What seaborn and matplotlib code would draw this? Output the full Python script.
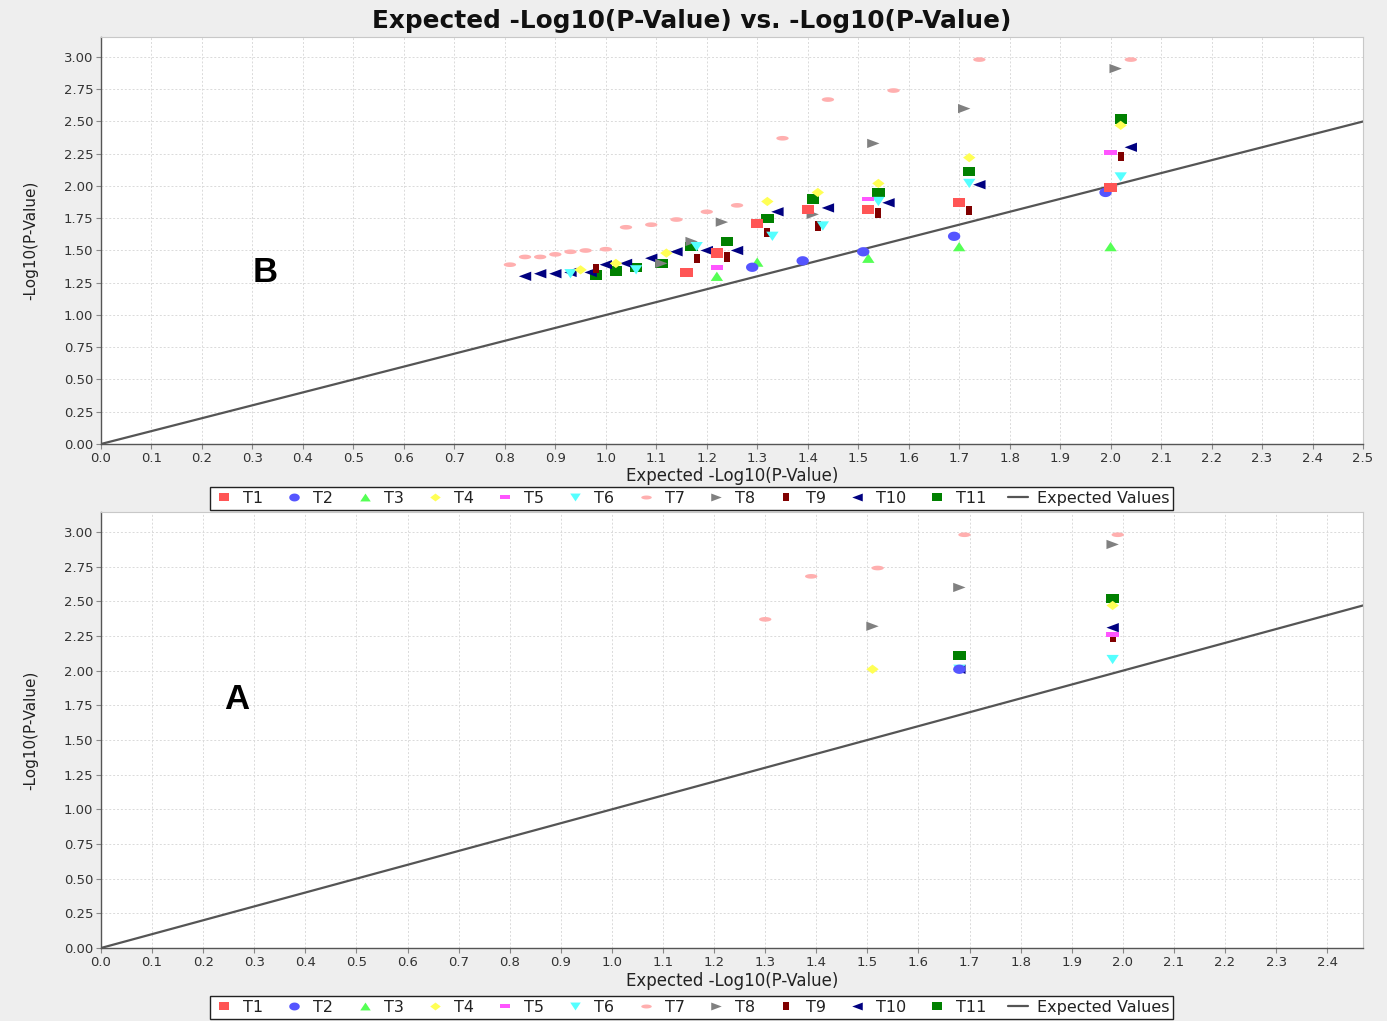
import numpy as np
import pandas as pd
import matplotlib
matplotlib.use("Agg")
import matplotlib.pyplot as plt
from matplotlib.path import Path
from matplotlib.lines import Line2D
from matplotlib.ticker import FormatStrFormatter
import seaborn as sns

# ---------------------------------------------------------------- data
SERIES = ["T1", "T2", "T3", "T4", "T5", "T6", "T7", "T8", "T9", "T10", "T11"]

# Panel B (upper plot): expected vs observed -log10(p)
B_T1_X = [1.16, 1.22, 1.30, 1.40, 1.52, 1.70, 2.00]
B_T1_Y = [1.33, 1.48, 1.71, 1.82, 1.82, 1.87, 1.99]
B_T2_X = [1.29, 1.39, 1.51, 1.69, 1.99]
B_T2_Y = [1.37, 1.42, 1.49, 1.61, 1.95]
B_T3_X = [1.22, 1.30, 1.52, 1.70, 2.00]
B_T3_Y = [1.30, 1.41, 1.44, 1.53, 1.53]
B_T4_X = [0.95, 1.02, 1.12, 1.32, 1.42, 1.54, 1.72, 2.02]
B_T4_Y = [1.35, 1.40, 1.48, 1.88, 1.95, 2.02, 2.22, 2.47]
B_T5_X = [1.22, 1.52, 2.00]
B_T5_Y = [1.37, 1.90, 2.26]
B_T6_X = [0.93, 1.06, 1.18, 1.33, 1.43, 1.54, 1.72, 2.02]
B_T6_Y = [1.32, 1.35, 1.53, 1.61, 1.69, 1.88, 2.02, 2.07]
B_T7_X = [0.81, 0.84, 0.87, 0.90, 0.93, 0.96, 1.00, 1.04, 1.09, 1.14, 1.20,
          1.26, 1.35, 1.44, 1.57, 1.74, 2.04]
B_T7_Y = [1.39, 1.45, 1.45, 1.47, 1.49, 1.50, 1.51, 1.68, 1.70, 1.74, 1.80,
          1.85, 2.37, 2.67, 2.74, 2.98, 2.98]
B_T8_X = [1.11, 1.17, 1.23, 1.41, 1.53, 1.71, 2.01]
B_T8_Y = [1.40, 1.57, 1.72, 1.78, 2.33, 2.60, 2.91]
B_T9_X = [0.98, 1.18, 1.24, 1.32, 1.42, 1.54, 1.72, 2.02]
B_T9_Y = [1.36, 1.44, 1.45, 1.64, 1.69, 1.79, 1.81, 2.23]
B_T10_X = [0.84, 0.87, 0.90, 0.93, 0.97, 1.00, 1.04, 1.09, 1.14, 1.20, 1.26,
           1.34, 1.44, 1.56, 1.74, 2.04]
B_T10_Y = [1.30, 1.32, 1.32, 1.33, 1.33, 1.39, 1.40, 1.44, 1.49, 1.50, 1.50,
           1.80, 1.83, 1.87, 2.01, 2.30]
B_T11_X = [0.98, 1.02, 1.06, 1.11, 1.17, 1.24, 1.32, 1.41, 1.54, 1.72, 2.02]
B_T11_Y = [1.31, 1.34, 1.37, 1.40, 1.53, 1.57, 1.75, 1.90, 1.95, 2.11, 2.52]

# Panel A (lower plot)
A_T1_X, A_T1_Y = [], []
A_T2_X, A_T2_Y = [1.68], [2.01]
A_T3_X, A_T3_Y = [], []
A_T4_X, A_T4_Y = [1.51, 1.98], [2.01, 2.47]
A_T5_X, A_T5_Y = [1.98], [2.26]
A_T6_X, A_T6_Y = [1.68, 1.98], [2.01, 2.08]
A_T7_X = [1.30, 1.39, 1.52, 1.69, 1.99]
A_T7_Y = [2.37, 2.68, 2.74, 2.98, 2.98]
A_T8_X, A_T8_Y = [1.51, 1.68, 1.98], [2.32, 2.60, 2.91]
A_T9_X, A_T9_Y = [1.98], [2.24]
A_T10_X, A_T10_Y = [1.68, 1.98], [2.01, 2.31]
A_T11_X, A_T11_Y = [1.68, 1.98], [2.11, 2.52]

# Expected-values reference line (y = x) across each x range
EXPECTED_B = [0.0, 2.5]
EXPECTED_A = [0.0, 2.47]

X_TICKS_B = np.round(np.arange(0, 2.51, 0.1), 1)
X_TICKS_A = np.round(np.arange(0, 2.41, 0.1), 1)
Y_TICKS = np.round(np.arange(0, 3.01, 0.25), 2)

COLORS = ["#ff5555", "#5555ff", "#55ff55", "#ffff55", "#ff55ff", "#55ffff",
          "#ffafaf", "#808080", "#800000", "#000080", "#008000"]
SHAPES = ["square", "circle", "up", "diamond", "hrect", "down",
          "hellipse", "right", "vrect", "left", "square"]


def frame(prefix):
    g = globals()
    rows = []
    for name in SERIES:
        xs = g[f"{prefix}_{name}_X"]
        ys = g[f"{prefix}_{name}_Y"]
        rows += [(name, x, y) for x, y in zip(xs, ys)]
    return pd.DataFrame(rows, columns=["series", "expected", "observed"])


# ---------------------------------------------------------------- markers
STRETCH = 1.33      # markers are drawn slightly wide
PX_PER_UNIT = 1.55


def marker_path(kind):
    if kind == "square":
        v = [(-3, -3), (3, -3), (3, 3), (-3, 3)]
    elif kind == "circle":
        t = np.linspace(0, 2 * np.pi, 40, endpoint=False)
        v = list(zip(3 * np.cos(t), 3 * np.sin(t)))
    elif kind == "hellipse":
        t = np.linspace(0, 2 * np.pi, 40, endpoint=False)
        v = list(zip(3 * np.cos(t), 1.5 * np.sin(t)))
    elif kind == "up":
        v = [(0, 3), (3, -3), (-3, -3)]
    elif kind == "down":
        v = [(0, -3), (3, 3), (-3, 3)]
    elif kind == "right":
        v = [(3, 0), (-3, 3), (-3, -3)]
    elif kind == "left":
        v = [(-3, 0), (3, 3), (3, -3)]
    elif kind == "diamond":
        v = [(0, 3), (3, 0), (0, -3), (-3, 0)]
    elif kind == "hrect":
        v = [(-3, -1.5), (3, -1.5), (3, 1.5), (-3, 1.5)]
    elif kind == "vrect":
        v = [(-1.5, -3), (1.5, -3), (1.5, 3), (-1.5, 3)]
    verts = np.array([(x * STRETCH, y) for x, y in v])
    verts = np.vstack([verts, verts[:1]])
    path = Path(verts, closed=True)
    ms = 2 * np.abs(verts).max() * PX_PER_UNIT / (100 / 72)
    return path, ms


MARKERS = [marker_path(k) for k in SHAPES]

# ---------------------------------------------------------------- figure
sns.set_theme(style="white")
plt.rcParams["font.family"] = ["DejaVu Sans"]

W, H = 1387, 1021
fig = plt.figure(figsize=(W / 100, H / 100), dpi=100, facecolor="#eeeeee")


def axes_px(left, top, right, bottom):
    return fig.add_axes([left / W, 1 - bottom / H, (right - left) / W,
                         (bottom - top) / H])


ax_b = axes_px(101, 37, 1363, 444)
ax_a = axes_px(101, 512, 1363, 948)


def draw_panel(ax, prefix, xmax, ymax, xticks, expected, letter, letter_xy,
               xlabel_y):
    ax.set_facecolor("white")
    df = frame(prefix)
    n = len(SERIES)
    for i, name in enumerate(SERIES):
        sub = df[df["series"] == name]
        if sub.empty:
            continue
        path, ms = MARKERS[i]
        sns.scatterplot(data=sub, x="expected", y="observed", ax=ax,
                        marker=path, s=ms ** 2, color=COLORS[i],
                        edgecolor="none", linewidth=0, legend=False,
                        zorder=3 + (n - i) * 0.01)
    sns.lineplot(x=expected, y=expected, ax=ax, color="#555555",
                 linewidth=1.6, zorder=2.5)

    ax.set_xlim(0, xmax)
    ax.set_ylim(0, ymax)
    ax.set_xticks(xticks)
    ax.set_yticks(Y_TICKS)
    ax.xaxis.set_major_formatter(FormatStrFormatter("%.1f"))
    ax.yaxis.set_major_formatter(FormatStrFormatter("%.2f"))
    ax.tick_params(axis="both", direction="out", length=3.5, width=0.8,
                   color="#888888", labelsize=9.5, labelcolor="#333333",
                   pad=2, bottom=True, left=True)
    ax.grid(True, color="#dadada", linewidth=0.7, linestyle=(0, (2, 2)))
    ax.set_axisbelow(True)
    for side in ("left", "bottom"):
        ax.spines[side].set_color("#555555")
        ax.spines[side].set_linewidth(1.0)
    for side in ("top", "right"):
        ax.spines[side].set_color("#c8c8c8")
        ax.spines[side].set_linewidth(0.8)

    ax.set_xlabel("Expected -Log10(P-Value)", fontsize=12, color="#222222")
    ax.set_ylabel("-Log10(P-Value)", fontsize=11, color="#222222")
    ax.xaxis.set_label_coords(0.5, xlabel_y)
    ax.yaxis.set_label_coords(-0.05, 0.5)

    ax.text(letter_xy[0], letter_xy[1], letter, fontsize=25,
            fontweight="bold", color="black", ha="center", va="center",
            family="Liberation Sans", zorder=5)


draw_panel(ax_b, "B", 2.5, 3.155, X_TICKS_B, EXPECTED_B, "B", (0.325, 1.33),
           -0.057)
draw_panel(ax_a, "A", 2.47, 3.144, X_TICKS_A, EXPECTED_A, "A", (0.266, 1.79),
           -0.055)

fig.text(691.5 / W, 1 - 21 / H, "Expected -Log10(P-Value) vs. -Log10(P-Value)",
         ha="center", va="center", fontsize=17.8, fontweight="bold",
         color="#111111")

# legend handles
handles = []
for i, name in enumerate(SERIES):
    path, ms = MARKERS[i]
    handles.append(Line2D([], [], linestyle="none", marker=path,
                          markersize=ms * 0.85, markerfacecolor=COLORS[i],
                          markeredgewidth=0, label=name))
handles.append(Line2D([], [], color="#555555", linewidth=1.6,
                      label="Expected Values"))

for yc in (498.5, 1007.5):
    leg = fig.legend(handles=handles, loc="center",
                     bbox_to_anchor=(691.5 / W, 1 - yc / H), ncol=12,
                     frameon=True, fancybox=False, fontsize=11.5,
                     handlelength=1.3, handletextpad=0.55, columnspacing=1.3,
                     borderpad=0.22, labelcolor="#222222")
    leg.get_frame().set_edgecolor("#222222")
    leg.get_frame().set_linewidth(1.0)
    leg.get_frame().set_facecolor("white")
    leg.get_frame().set_alpha(1)

fig.savefig("out.png", dpi=100, facecolor=fig.get_facecolor())
